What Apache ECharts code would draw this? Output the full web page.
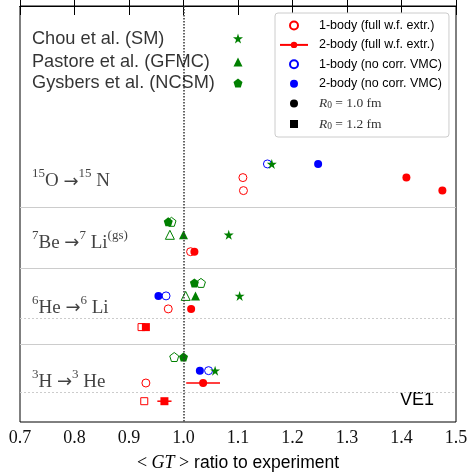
<!DOCTYPE html>
<html>
<head>
<meta charset="utf-8">
<script src="https://cdn.jsdelivr.net/npm/echarts@6/dist/echarts.min.js"></script>
<style>
  html, body { margin: 0; padding: 0; background: #fff; }
  #chart { width: 470px; height: 472px; }
</style>
</head>
<body>
<div id="chart"></div>
<script>
// x axis
const xMin = 0.7, xMax = 1.5, xStep = 0.1
// y is a row scale (0 at top)
const yMax = 32

// transition labels
const transitionLabels = [
  '{sup|15}{b|O }{a|→}{sup|15}{b| N}',
  '{sup|7}{b|Be }{a|→}{sup|7}{b| Li}{sup|(gs)}',
  '{sup|6}{b|He }{a|→}{sup|6}{b| Li}',
  '{sup|3}{b|H }{a|→}{sup|3}{b| He}'
]
const transitionRows = [13.3, 18.05, 23.05, 28.75]
const labelX = 0.722

// reference calculations (upper left key)
const refNames = ['Chou et al. (SM)', 'Pastore et al. (GFMC)', 'Gysbers et al. (NCSM)']
const refRows = [2.5, 4.31, 5.92]
const refMarkX = 1.1

// 1-body (full w.f. extr.), R0 = 1.0 fm
const oneBodyFullX = [1.109, 1.110, 1.013, 0.972, 0.931]
const oneBodyFullY = [13.2, 14.2, 18.9, 23.3, 29.0]
// 2-body (full w.f. extr.), R0 = 1.0 fm
const twoBodyFullX = [1.409, 1.475, 1.020, 1.014, 1.036]
const twoBodyFullY = [13.2, 14.2, 18.9, 23.3, 29.0]
// R0 = 1.2 fm
const oneBodyFull12X = [0.923, 0.928]
const oneBodyFull12Y = [24.7, 30.4]
const twoBodyFull12X = [0.931, 0.965]
const twoBodyFull12Y = [24.7, 30.4]
// error bars on 2-body points
const errY = [29.0, 30.4]
const errLo = [1.005, 0.952]
const errHi = [1.067, 0.978]

// no corr. VMC
const oneBodyVmcX = [1.154, 0.968, 1.046]
const twoBodyVmcX = [1.247, 0.954, 1.030]
const vmcY = [12.15, 22.3, 28.05]

// Chou et al.
const chouX = [1.162, 1.083, 1.103, 1.058]
const chouY = [12.15, 17.6, 22.3, 28.05]
// Pastore et al.
const pastoreFilledX = [1.0, 1.022]
const pastoreOpenX = [0.975, 1.004]
const pastoreY = [17.6, 22.3]
// Gysbers et al.
const gysbersFilledX = [0.972, 1.020, 1.0]
const gysbersOpenX = [0.978, 1.032, 0.983]
const gysbersY = [16.6, 21.3, 27.0]

// separator rows
const solidRows = [15.5, 20.2, 26.0]
const dottedRows = [24.0, 29.7]

const RED = '#ff0000', BLUE = '#0000ff', GREEN = '#008000'
const STAR = 'path://M50,0 L61.23,34.55 L97.55,34.55 L68.16,55.9 L79.39,90.45 L50,69.1 L20.61,90.45 L31.84,55.9 L2.45,34.55 L38.77,34.55 Z'
const PENTAGON = 'path://M50,0 L97.55,34.55 L79.39,90.45 L20.61,90.45 L2.45,34.55 Z'
const SQUARE = 'path://M0,0 L10,0 L10,10 L0,10 Z'

function zip(xs, ys) {
  return xs.map((x, i) => [x, ys[i]])
}

function openStyle(color) {
  return {color: '#ffffff', borderColor: color, borderWidth: 1, opacity: 1}
}

function solid(color) {
  return {color: color, opacity: 1}
}

const chart = echarts.init(document.getElementById('chart'))

chart.setOption({
  animation: false,
  backgroundColor: '#ffffff',
  grid: {
    left: 20, right: 14, top: 6, bottom: 50,
    outerBoundsMode: 'none', containLabel: false,
    show: true, borderColor: '#000', borderWidth: 1
  },
  xAxis: [{
    type: 'value', min: xMin, max: xMax, interval: xStep,
    position: 'bottom',
    axisLine: {lineStyle: {color: '#000', width: 1}},
    axisTick: {inside: true, length: 9, lineStyle: {color: '#000'}},
    axisLabel: {
      margin: 7, color: '#111', fontFamily: 'Liberation Serif', fontSize: 18,
      formatter: v => v.toFixed(1)
    },
    splitLine: {show: false},
    name: '{m|< }{i|GT}{m| >}{s| ratio to experiment}',
    nameLocation: 'middle', nameGap: 32,
    nameTextStyle: {
      rich: {
        m: {fontFamily: 'Liberation Serif', fontSize: 18, color: '#000'},
        i: {fontFamily: 'Liberation Serif', fontStyle: 'italic', fontSize: 18, color: '#000'},
        s: {fontFamily: 'Liberation Sans', fontSize: 17.5, color: '#000'}
      }
    }
  }, {
    type: 'value', min: xMin, max: xMax, interval: xStep,
    position: 'top',
    axisLine: {lineStyle: {color: '#000', width: 1}},
    axisTick: {inside: true, length: 9, lineStyle: {color: '#000'}},
    axisLabel: {show: false},
    splitLine: {show: false}
  }],
  yAxis: {
    type: 'value', min: 0, max: yMax, inverse: true,
    axisLine: {show: false}, axisTick: {show: false},
    axisLabel: {show: false}, splitLine: {show: false}
  },
  legend: {
    data: [
      {name: '1-body (full w.f. extr.)'},
      {name: '2-body (full w.f. extr.)'},
      {name: '1-body (no corr. VMC)'},
      {name: '2-body (no corr. VMC)'},
      {name: 'R0a'},
      {name: 'R0b', icon: SQUARE}
    ],
    orient: 'vertical',
    left: 275, top: 13,
    itemWidth: 28, itemHeight: 8, itemGap: 6.4,
    symbolKeepAspect: true,
    padding: [6, 7, 6, 4],
    borderColor: '#cccccc', borderWidth: 1, borderRadius: 3,
    backgroundColor: '#ffffff',
    textStyle: {
      fontFamily: 'Liberation Sans', fontSize: 12.5, color: '#000',
      padding: [0, 0, 0, 6],
      rich: {
        i: {fontFamily: 'Liberation Serif', fontStyle: 'italic', fontSize: 13.5, color: '#333'},
        sub: {fontFamily: 'Liberation Serif', fontSize: 9.5, color: '#333', verticalAlign: 'bottom'},
        r: {fontFamily: 'Liberation Serif', fontSize: 13.5, color: '#333'}
      }
    },
    formatter: name => {
      if (name === 'R0a') return '{i|R}{sub|0}{r| = 1.0 fm}'
      if (name === 'R0b') return '{i|R}{sub|0}{r| = 1.2 fm}'
      return name
    }
  },
  graphic: [{
    type: 'text', right: 36, top: 391,
    style: {text: 'VE1', fontFamily: 'Liberation Sans', fontSize: 18, fill: '#000'}
  }],
  series: [
    {
      // error bars
      name: 'err', type: 'custom', z: 1,
      data: errY.map((y, i) => [errLo[i], errHi[i], y]),
      encode: {x: [0, 1], y: 2},
      renderItem: (params, api) => {
        const a = api.coord([api.value(0), api.value(2)])
        const b = api.coord([api.value(1), api.value(2)])
        return {
          type: 'line',
          shape: {x1: a[0], y1: a[1], x2: b[0], y2: b[1]},
          style: {stroke: RED, lineWidth: 1.5}
        }
      },
      markLine: {
        silent: true, symbol: 'none', label: {show: false},
        data: [
          ...solidRows.map(v => ({yAxis: v, lineStyle: {color: '#cccccc', width: 1, type: 'solid'}})),
          ...dottedRows.map(v => ({yAxis: v, lineStyle: {color: '#cccccc', width: 1, type: [2, 2]}})),
          {xAxis: 1.0, lineStyle: {color: '#333333', width: 1.5, type: [1.5, 1.5]}}
        ]
      }
    },
    {
      name: '1-body (full w.f. extr.)', type: 'scatter', z: 3,
      symbol: 'circle', symbolSize: 8,
      itemStyle: openStyle(RED),
      data: zip(oneBodyFullX, oneBodyFullY)
    },
    {
      name: '1-body full 1.2', type: 'scatter', z: 3,
      symbol: 'rect', symbolSize: 7,
      itemStyle: openStyle(RED),
      data: zip(oneBodyFull12X, oneBodyFull12Y)
    },
    {
      name: '1-body (no corr. VMC)', type: 'scatter', z: 3,
      symbol: 'circle', symbolSize: 8,
      itemStyle: openStyle(BLUE),
      data: zip(oneBodyVmcX, vmcY)
    },
    {
      name: 'pastore open', type: 'scatter', z: 3,
      symbol: 'triangle', symbolSize: 9,
      itemStyle: openStyle(GREEN),
      data: zip(pastoreOpenX, pastoreY)
    },
    {
      name: 'gysbers open', type: 'scatter', z: 3,
      symbol: PENTAGON, symbolSize: 9,
      itemStyle: openStyle(GREEN),
      data: zip(gysbersOpenX, gysbersY)
    },
    {
      name: '2-body (full w.f. extr.)', type: 'line',
      symbol: 'circle', symbolSize: 7,
      lineStyle: {color: RED, width: 1.5},
      itemStyle: solid(RED),
      data: []
    },
    {
      name: '2-body full pts', type: 'scatter', z: 4,
      symbol: 'circle', symbolSize: 8,
      itemStyle: solid(RED),
      data: zip(twoBodyFullX, twoBodyFullY)
    },
    {
      name: '2-body full 1.2', type: 'scatter', z: 4,
      symbol: 'rect', symbolSize: 8,
      itemStyle: solid(RED),
      data: zip(twoBodyFull12X, twoBodyFull12Y)
    },
    {
      name: '2-body (no corr. VMC)', type: 'scatter', z: 4,
      symbol: 'circle', symbolSize: 8,
      itemStyle: solid(BLUE),
      data: zip(twoBodyVmcX, vmcY)
    },
    {
      name: 'pastore', type: 'scatter', z: 4,
      symbol: 'triangle', symbolSize: 9,
      itemStyle: solid(GREEN),
      data: zip(pastoreFilledX, pastoreY).concat([[refMarkX, refRows[1]]])
    },
    {
      name: 'gysbers', type: 'scatter', z: 4,
      symbol: PENTAGON, symbolSize: 9,
      itemStyle: solid(GREEN),
      data: zip(gysbersFilledX, gysbersY).concat([[refMarkX, refRows[2]]])
    },
    {
      name: 'chou', type: 'scatter', z: 5,
      symbol: STAR, symbolSize: 10,
      itemStyle: solid(GREEN),
      data: zip(chouX, chouY).concat([[refMarkX, refRows[0]]])
    },
    {
      name: 'R0a', type: 'scatter', symbol: 'circle', symbolSize: 8,
      itemStyle: solid('#000'), data: []
    },
    {
      name: 'R0b', type: 'scatter', symbol: 'rect', symbolSize: 8,
      itemStyle: solid('#000'), data: []
    },
    {
      // text of the reference key
      name: 'refText', type: 'scatter', symbolSize: 0, z: 6,
      data: refNames.map((n, i) => ({value: [labelX, refRows[i]], name: n})),
      label: {
        show: true, position: 'right', distance: 0,
        formatter: p => p.name,
        fontFamily: 'Liberation Sans', fontSize: 18.2, color: '#000'
      }
    },
    {
      // transition labels
      name: 'transText', type: 'scatter', symbolSize: 0, z: 6,
      data: transitionLabels.map((t, i) => ({value: [labelX, transitionRows[i]], name: t})),
      label: {
        show: true, position: 'right', distance: 0,
        formatter: p => p.name,
        rich: {
          b: {fontFamily: 'Liberation Serif', fontSize: 19, color: '#111', lineHeight: 24, verticalAlign: 'bottom'},
          a: {fontFamily: 'DejaVu Sans', fontSize: 18, color: '#111', lineHeight: 24, verticalAlign: 'bottom'},
          sup: {fontFamily: 'Liberation Serif', fontSize: 13, color: '#111', lineHeight: 13, verticalAlign: 'top'}
        }
      }
    }
  ]
})
</script>
</body>
</html>
